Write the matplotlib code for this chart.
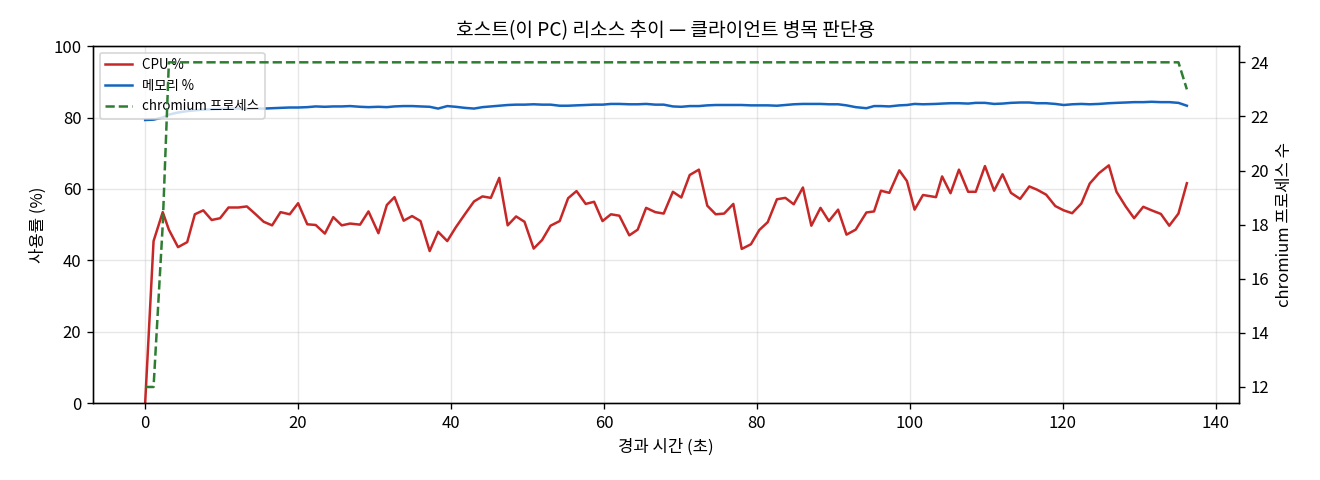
import matplotlib
matplotlib.use("Agg")
from matplotlib import pyplot as plt

plt.rcParams['font.family'] = ['Noto Sans CJK KR', 'DejaVu Sans']

# 경과 시간 (초)
elapsed = [0, 1.1, 2.3, 3.1, 4.3, 5.5, 6.5, 7.6, 8.7, 9.8,
           10.9, 12.2, 13.3, 14.4, 15.5, 16.6, 17.7, 18.9, 20.0, 21.2,
           22.3, 23.5, 24.6, 25.7, 26.8, 28.1, 29.2, 30.5, 31.6, 32.6,
           33.8, 34.9, 36.0, 37.2, 38.3, 39.5, 40.6, 41.8, 43.0, 44.1,
           45.2, 46.3, 47.4, 48.5, 49.6, 50.8, 51.9, 53.0, 54.2, 55.3,
           56.4, 57.6, 58.7, 59.8, 60.9, 62.0, 63.3, 64.4, 65.5, 66.7,
           67.8, 69.0, 70.1, 71.2, 72.4, 73.5, 74.6, 75.7, 76.9, 78.0,
           79.2, 80.3, 81.4, 82.6, 83.7, 84.8, 86.0, 87.1, 88.3, 89.4,
           90.6, 91.7, 92.9, 94.3, 95.3, 96.2, 97.3, 98.6, 99.6, 100.6,
           101.7, 103.4, 104.2, 105.3, 106.4, 107.6, 108.6, 109.8, 111.0, 112.1,
           113.2, 114.4, 115.6, 116.6, 117.8, 119.0, 120.1, 121.2, 122.4, 123.5,
           124.7, 126.0, 127.0, 128.2, 129.3, 130.5, 131.6, 132.8, 133.9, 135.1,
           136.2]

cpu = [0, 45.4, 53.5, 48.6, 43.7, 45.1, 52.9, 54.0, 51.3, 51.8,
       54.8, 54.8, 55.1, 53.0, 50.8, 49.8, 53.5, 52.9, 56.0, 50.1,
       49.9, 47.5, 52.1, 49.8, 50.3, 50.0, 53.7, 47.6, 55.5, 57.7,
       51.1, 52.4, 51.0, 42.6, 48.0, 45.4, 49.2, 52.9, 56.5, 57.9,
       57.5, 63.1, 49.8, 52.3, 50.8, 43.3, 45.7, 49.7, 51.0, 57.4,
       59.4, 55.8, 56.4, 51.0, 52.9, 52.5, 47.0, 48.6, 54.7, 53.5,
       53.1, 59.2, 57.6, 63.9, 65.4, 55.3, 52.9, 53.1, 55.8, 43.2,
       44.5, 48.5, 50.7, 57.1, 57.5, 55.7, 60.4, 49.7, 54.7, 51.0,
       54.2, 47.2, 48.6, 53.4, 53.7, 59.5, 58.9, 65.2, 62.2, 54.2,
       58.3, 57.7, 63.5, 58.8, 65.4, 59.2, 59.2, 66.4, 59.5, 64.1,
       58.9, 57.2, 60.7, 59.8, 58.4, 55.2, 54.0, 53.2, 55.9, 61.5,
       64.4, 66.6, 59.2, 55.1, 51.8, 55.0, 54.0, 53.0, 49.7, 53.1,
       61.6]

memory = [79.3, 79.4, 80.0, 80.8, 81.4, 81.8, 82.0, 82.2, 82.3, 82.4,
          82.5, 82.5, 82.4, 82.5, 82.5, 82.6, 82.7, 82.8, 82.8, 82.9,
          83.1, 83.0, 83.1, 83.1, 83.2, 83.0, 82.9, 83.0, 82.9, 83.1,
          83.2, 83.2, 83.1, 83.0, 82.5, 83.2, 83.0, 82.7, 82.5, 82.9,
          83.1, 83.3, 83.5, 83.6, 83.6, 83.7, 83.6, 83.6, 83.3, 83.3,
          83.4, 83.5, 83.6, 83.6, 83.8, 83.8, 83.7, 83.7, 83.8, 83.6,
          83.6, 83.1, 83.0, 83.2, 83.2, 83.4, 83.5, 83.5, 83.5, 83.5,
          83.4, 83.4, 83.4, 83.3, 83.5, 83.7, 83.8, 83.8, 83.8, 83.7,
          83.7, 83.4, 82.9, 82.6, 83.2, 83.2, 83.1, 83.4, 83.5, 83.8,
          83.7, 83.8, 83.9, 84.0, 84.0, 83.9, 84.1, 84.1, 83.8, 83.9,
          84.1, 84.2, 84.2, 84.0, 84.0, 83.8, 83.5, 83.7, 83.8, 83.7,
          83.8, 84.0, 84.1, 84.2, 84.3, 84.3, 84.4, 84.3, 84.3, 84.1,
          83.3]

chromium = [12, 12, 18] + [24] * 117 + [23]

fig, ax = plt.subplots(figsize=(11, 4), dpi=120)
fig.subplots_adjust(left=0.0705, right=0.9386, top=0.904, bottom=0.16)

l1, = ax.plot(elapsed, cpu, color="#c62828", linewidth=1.5, label="CPU %")
l2, = ax.plot(elapsed, memory, color="#1565c0", linewidth=1.5, label="메모리 %")
ax.set_ylim(0, 100)
ax.set_xlabel("경과 시간 (초)", fontsize=10)
ax.set_ylabel("사용률 (%)", fontsize=10)
ax.grid(True, alpha=0.3)
ax.tick_params(labelsize=10)

ax2 = ax.twinx()
l3, = ax2.plot(elapsed, chromium, color="#2e7d32", linewidth=1.5,
               linestyle="--", label="chromium 프로세스")
ax2.set_ylabel("chromium 프로세스 수", fontsize=10)
ax2.tick_params(labelsize=10)

ax.legend(handles=[l1, l2, l3], loc="upper left", fontsize=8)
ax.set_title("호스트(이 PC) 리소스 추이 — 클라이언트 병목 판단용", fontsize=11.5)

plt.savefig("out.png")
